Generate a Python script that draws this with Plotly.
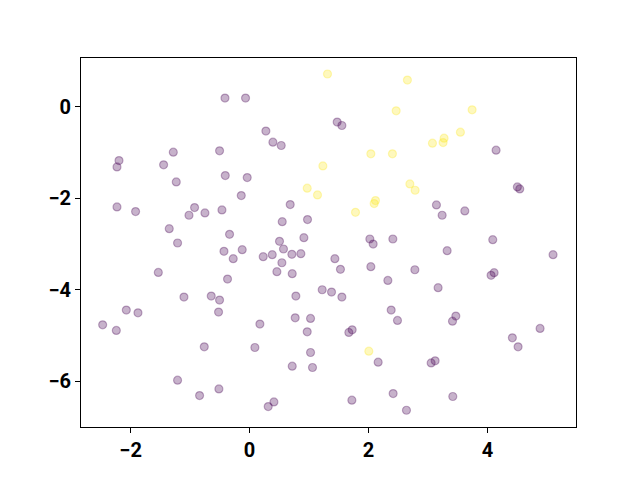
import plotly.graph_objects as go

# class 0 (purple) points
x0 = [-0.413, -0.067, 0.275, 0.393, 0.533, -2.195, -2.229, -1.282, -1.445, -0.504,
      -0.408, -0.039, -1.232, -0.139, 0.684, -2.229, -1.916, -0.924, -1.018, -0.750,
      -0.464, 0.550, 0.975, -1.350, -0.336, -1.210, 0.504, 0.914, -0.123, 0.571,
      1.474, 1.553, 4.146, 4.504, 4.544, 3.143, 3.239, 3.620, 2.023, 2.079,
      2.410, 4.090, -0.430, -0.274, 0.230, 0.382, 0.712, 0.863, 0.544, -1.534,
      0.460, 0.718, -0.370, 1.222, 1.379, -1.103, -0.644, -0.504, 0.779, -2.072,
      -1.876, -0.521, -2.470, -2.240, 0.174, 0.768, 1.026, 0.970, -0.761, 0.090,
      1.026, 0.718, 1.059, -1.210, -0.840, -0.515, 0.410, 0.314, 3.323, 5.104,
      1.435, 1.529, 2.040, 2.780, 4.062, 4.113, 2.326, 3.171, 1.553, 2.382,
      2.488, 3.469, 3.413, 1.670, 1.726, 4.886, 4.420, 4.516, 2.163, 3.054,
      3.121, 1.721, 2.415, 2.639, 3.418]
y0 = [0.190, 0.190, -0.530, -0.773, -0.846, -1.175, -1.313, -0.992, -1.269, -0.963,
      -1.503, -1.547, -1.641, -1.940, -2.137, -2.188, -2.290, -2.203, -2.370, -2.319,
      -2.254, -2.509, -2.465, -2.662, -2.786, -2.976, -2.940, -2.860, -3.122, -3.107,
      -0.335, -0.409, -0.948, -1.751, -1.794, -2.144, -2.370, -2.276, -2.888, -3.000,
      -2.888, -2.903, -3.158, -3.319, -3.275, -3.231, -3.224, -3.210, -3.407, -3.618,
      -3.603, -3.647, -3.764, -3.997, -4.048, -4.158, -4.136, -4.223, -4.136, -4.442,
      -4.501, -4.486, -4.763, -4.887, -4.748, -4.610, -4.624, -4.916, -5.244, -5.259,
      -5.368, -5.667, -5.696, -5.974, -6.309, -6.164, -6.448, -6.550, -3.144, -3.231,
      -3.319, -3.552, -3.494, -3.560, -3.683, -3.625, -3.793, -3.953, -4.158, -4.442,
      -4.668, -4.573, -4.683, -4.930, -4.873, -4.843, -5.048, -5.244, -5.580, -5.595,
      -5.551, -6.411, -6.265, -6.630, -6.330]

# class 1 (yellow) points
x1 = [1.311, 1.233, 0.970, 1.143, 2.655, 2.466, 3.743, 3.546, 3.076, 3.255,
      3.272, 2.040, 2.403, 2.696, 2.785, 2.118, 2.096, 1.782, 2.006]
y1 = [0.716, -1.291, -1.779, -1.926, 0.584, -0.088, -0.066, -0.554, -0.795, -0.781,
      -0.685, -1.028, -1.028, -1.685, -1.823, -2.050, -2.115, -2.305, -5.339]

x_ticks = [-2, 0, 2, 4]
y_ticks = [0, -2, -4, -6]

fig = go.Figure()
fig.add_trace(go.Scatter(
    x=x0, y=y0, mode="markers",
    marker=dict(size=8, color="rgba(68,1,84,0.3)",
                line=dict(color="rgba(68,1,84,0.3)", width=1.2)),
    showlegend=False, hoverinfo="skip"))
fig.add_trace(go.Scatter(
    x=x1, y=y1, mode="markers",
    marker=dict(size=8, color="rgba(253,231,37,0.3)",
                line=dict(color="rgba(253,231,37,0.3)", width=1.2)),
    showlegend=False, hoverinfo="skip"))

axis_common = dict(
    showgrid=False, zeroline=False, showline=True, linecolor="black",
    linewidth=1, mirror=True, ticks="outside", ticklen=5, tickwidth=1,
    tickcolor="black",
    tickfont=dict(family="Roboto", size=20, color="black", weight="bold"),
)
fig.update_xaxes(range=[-2.834, 5.49], tickvals=x_ticks, **axis_common)
fig.update_yaxes(range=[-6.996, 1.066], tickvals=y_ticks, **axis_common)

fig.update_layout(
    width=640, height=480,
    margin=dict(l=73, r=72, t=50, b=61),
    plot_bgcolor="white", paper_bgcolor="white",
)
fig.write_html("out.html")
